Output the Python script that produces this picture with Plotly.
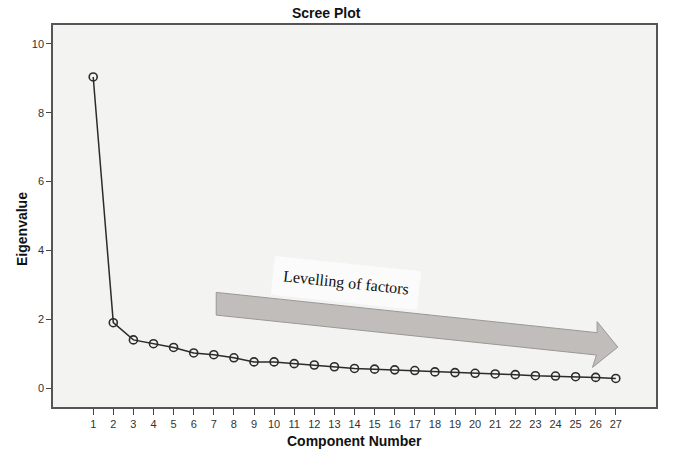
import plotly.graph_objects as go

# Scree plot data
components = list(range(1, 28))
eigenvalues = [9.04, 1.90, 1.40, 1.29, 1.18, 1.02, 0.97, 0.88, 0.76, 0.76,
               0.71, 0.67, 0.62, 0.57, 0.55, 0.53, 0.51, 0.47, 0.45, 0.43,
               0.41, 0.39, 0.36, 0.35, 0.33, 0.31, 0.28]
y_ticks = [0, 2, 4, 6, 8, 10]

# "Levelling of factors" arrow outline (data coords)
arrow_x = [7.12, 26.07, 26.07, 27.10, 25.84, 26.04, 7.12]
arrow_y = [2.78, 1.61, 1.93, 1.19, 0.60, 0.96, 2.12]

fig = go.Figure()

path = "M " + " L ".join(f"{x},{y}" for x, y in zip(arrow_x, arrow_y)) + " Z"
fig.add_shape(type="path", path=path, xref="x", yref="y",
              fillcolor="#c1bdba", line=dict(color="#9b9795", width=1), layer="below")

fig.add_trace(go.Scatter(
    x=components, y=eigenvalues, mode='lines+markers',
    line=dict(color='#2b2b2b', width=1.5),
    marker=dict(symbol='circle-open', size=8, color='#2b2b2b', line=dict(width=1.6)),
    showlegend=False
))

fig.add_annotation(x=13.6, y=3.05, xref="x", yref="y", text="Levelling of factors",
                   textangle=6, showarrow=False, bgcolor="#fbfbfb", borderpad=10,
                   font=dict(family="Liberation Serif", size=16, color="#111"))

# titles
fig.add_annotation(x=0.453, y=1.031, xref="paper", yref="paper", text="<b>Scree Plot</b>",
                   yanchor="middle", showarrow=False,
                   font=dict(family="Liberation Sans", size=14, color="#111"))
fig.add_annotation(x=0.5, y=-0.089, xref="paper", yref="paper", text="<b>Component Number</b>",
                   yanchor="middle", showarrow=False,
                   font=dict(family="Liberation Sans", size=14, color="#111"))
fig.add_annotation(x=-0.068, y=0.466, xref="paper", yref="paper", text="<b>Eigenvalue</b>",
                   textangle=-90, showarrow=False,
                   font=dict(family="Liberation Sans", size=14, color="#111"))

fig.update_layout(
    width=681, height=458,
    margin=dict(l=53, r=25, t=25, b=51),
    paper_bgcolor='white',
    plot_bgcolor='#f3f3f2',
    font=dict(family="Liberation Sans", size=11, color="#333"),
    xaxis=dict(range=[-1, 29], tickvals=components, showgrid=False, zeroline=False,
               showline=True, mirror=True, linecolor='#555', linewidth=1.5,
               ticks='outside', ticklen=6, tickcolor='#444'),
    yaxis=dict(range=[-0.55, 10.55], tickvals=y_ticks, showgrid=False, zeroline=False,
               showline=True, mirror=True, linecolor='#555', linewidth=1.5,
               ticks='outside', ticklen=5, tickcolor='#444'),
)

# drop the default 8px page margin so the figure fills the window exactly
fig.write_html("out.html", config={"displayModeBar": False},
               post_script="document.body.style.margin='0';")
